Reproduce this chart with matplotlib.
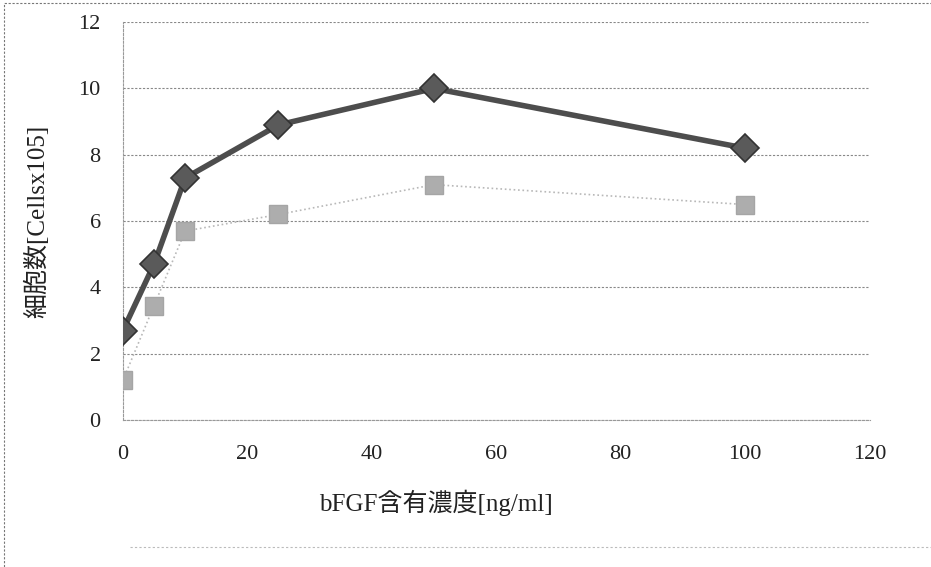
import matplotlib
matplotlib.use('Agg')
import matplotlib.pyplot as plt
from matplotlib.lines import Line2D
from matplotlib.patches import Rectangle

conc = [0, 5, 10, 25, 50, 100]
cells_a = [2.7, 4.7, 7.3, 8.9, 10.0, 8.2]
cells_b = [1.2, 3.45, 5.7, 6.2, 7.1, 6.5]
xticks = [0, 20, 40, 60, 80, 100, 120]
yticks = [0, 2, 4, 6, 8, 10, 12]

fam = ['Liberation Serif', 'Noto Sans CJK JP']

fig = plt.figure(figsize=(9.31, 5.67), dpi=100)
ax = fig.add_axes([0.132, 0.259, 0.802, 0.702])

# light series underneath
ax.plot(conc, cells_b, color='#b8b8b8', lw=1.2, ls=':', marker='s', ms=12.5,
        mfc='#adadad', mec='#a5a5a5', zorder=3)
ax.plot(conc, cells_a, color='#4d4d4d', lw=4, marker='D', ms=14,
        mfc='#5a5a5a', mec='#333333', mew=1.2, zorder=4)

ax.set_xlim(0, 120)
ax.set_ylim(0, 12)
ax.set_xticks(xticks)
ax.set_yticks(yticks)
ax.grid(axis='y', color='#888888', ls=(0, (2, 1.5)), lw=0.8)
for s in ['top', 'right']:
    ax.spines[s].set_visible(False)
for s in ['left', 'bottom']:
    ax.spines[s].set_color('#999999')
    ax.spines[s].set_linestyle((0, (2, 1.5)))
    ax.spines[s].set_linewidth(0.8)
ax.tick_params(axis='y', length=0, pad=16, labelsize=16, colors='#222222')
ax.tick_params(axis='x', length=0, pad=18, labelsize=16, colors='#222222')
for lab in ax.get_xticklabels() + ax.get_yticklabels():
    lab.set_family(fam)

ax.set_xlabel('bFGF含有濃度[ng/ml]', family=fam, fontsize=18, color='#222222')
ax.xaxis.set_label_coords(0.419, -0.175)
ax.set_ylabel('細胞数[Cellsx105]', family=fam, fontsize=18, color='#222222')
ax.yaxis.set_label_coords(-0.098, 0.5)

# outer frame and cut-off legend line
fig.add_artist(Rectangle((0.004, -0.01), 1.0, 1.004, transform=fig.transFigure,
                         fill=False, ec='#777777', lw=0.8, ls=(0, (2, 1.5))))
fig.add_artist(Line2D([0.14, 1.0], [0.035, 0.035], transform=fig.transFigure,
                      color='#bbbbbb', lw=0.8, ls=(0, (2, 2))))

fig.savefig('out.png', dpi=100)
